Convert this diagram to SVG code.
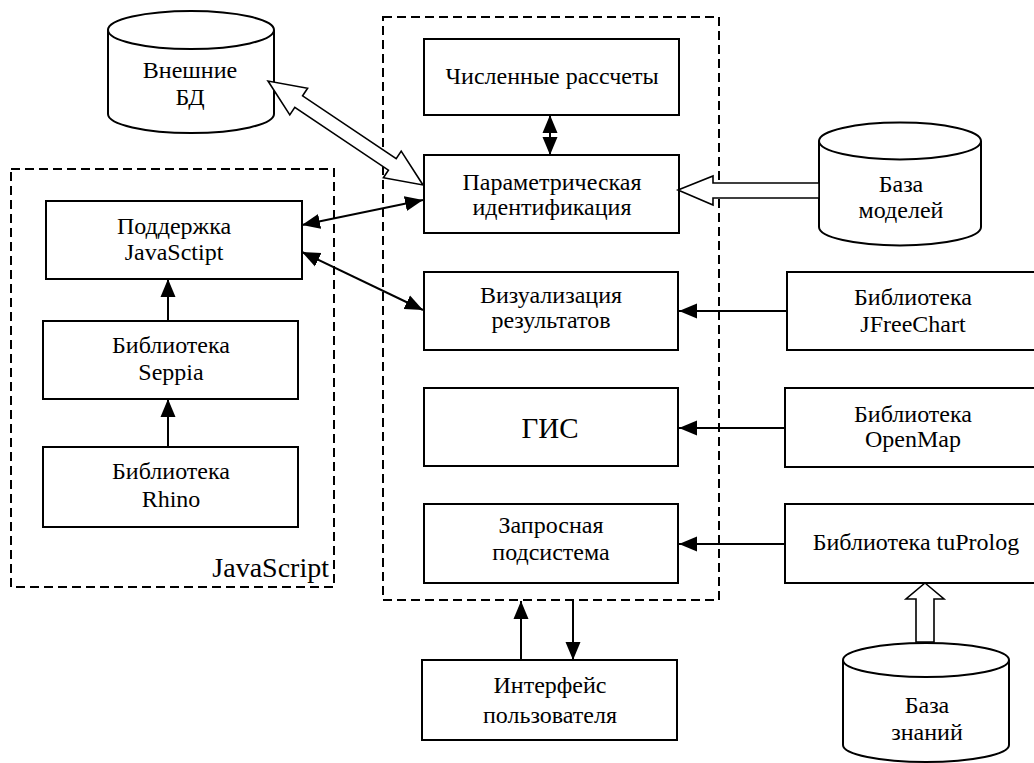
<svg xmlns="http://www.w3.org/2000/svg" width="1034" height="763" viewBox="0 0 1034 763">
<style>
.box{fill:#fff;stroke:#000;stroke-width:2}
.dash{fill:none;stroke:#000;stroke-width:2;stroke-dasharray:9,5}
.cyl{fill:#fff;stroke:#000;stroke-width:2}
.t{font-family:"Liberation Serif","Times New Roman",serif;font-size:24px;fill:#000;text-anchor:middle}
.ln{stroke:#000;stroke-width:2;fill:none}
.hollow{fill:#fff;stroke:#000;stroke-width:1.6;stroke-linejoin:miter}
</style>
<defs>
<marker id="ah" markerUnits="userSpaceOnUse" markerWidth="18" markerHeight="16" refX="18" refY="8" orient="auto-start-reverse" viewBox="0 0 18 16">
<path d="M0,0.5 L18,8 L0,15.5 z" fill="#000"/>
</marker>
</defs>
<rect width="1034" height="763" fill="#fff"/>

<g id="group-main"><rect class="dash" x="383" y="17" width="336" height="583"/></g>
<g id="group-js"><rect class="dash" x="11" y="169" width="323" height="418"/>
<text class="t" x="329" y="577" style="text-anchor:end;font-size:28px">JavaScript</text></g>

<g id="n-ext-db">
<path class="cyl" d="M108,30 L108,114 A83,19 0 0 0 274,114 L274,30"/>
<ellipse class="cyl" cx="191" cy="30" rx="83" ry="19"/>
<text class="t" x="190" y="78">Внешние</text>
<text class="t" x="190" y="105">БД</text>
</g>

<g id="n-numeric"><rect class="box" x="424" y="39" width="255" height="76"/>
<text class="t" x="552" y="84">Численные рассчеты</text></g>

<g id="n-param"><rect class="box" x="424" y="155" width="255" height="78"/>
<text class="t" x="552" y="190">Параметрическая</text>
<text class="t" x="552" y="215">идентификация</text></g>

<g id="n-viz"><rect class="box" x="424" y="272" width="254" height="78"/>
<text class="t" x="551" y="303">Визуализация</text>
<text class="t" x="551" y="328">результатов</text></g>

<g id="n-gis"><rect class="box" x="424" y="388" width="254" height="78"/>
<text class="t" x="550" y="438" style="font-size:29px">ГИС</text></g>

<g id="n-query"><rect class="box" x="424" y="504" width="254" height="79"/>
<text class="t" x="551" y="533">Запросная</text>
<text class="t" x="551" y="560">подсистема</text></g>

<g id="n-ui"><rect class="box" x="422" y="660" width="255" height="80"/>
<text class="t" x="550" y="693">Интерфейс</text>
<text class="t" x="550" y="723">пользователя</text></g>

<g id="n-models">
<path class="cyl" d="M819,141 L819,227 A81,18.5 0 0 0 981,227 L981,141"/>
<ellipse class="cyl" cx="900" cy="141" rx="81" ry="18.5"/>
<text class="t" x="901" y="192">База</text>
<text class="t" x="901" y="218">моделей</text>
</g>

<g id="n-jfree"><rect class="box" x="787" y="272" width="253" height="78"/>
<text class="t" x="913" y="305">Библиотека</text>
<text class="t" x="913" y="332">JFreeChart</text></g>

<g id="n-openmap"><rect class="box" x="785" y="388" width="255" height="79"/>
<text class="t" x="913" y="422">Библиотека</text>
<text class="t" x="913" y="447">OpenMap</text></g>

<g id="n-tuprolog"><rect class="box" x="785" y="504" width="255" height="79"/>
<text class="t" x="916" y="550">Библиотека tuProlog</text></g>

<g id="n-kb">
<path class="cyl" d="M843,660 L843,745 A83,17 0 0 0 1009,745 L1009,660"/>
<ellipse class="cyl" cx="926" cy="660" rx="83" ry="17"/>
<text class="t" x="927" y="713">База</text>
<text class="t" x="927" y="740">знаний</text>
</g>

<g id="n-jssupport"><rect class="box" x="46" y="201" width="256" height="78"/>
<text class="t" x="174" y="234">Поддержка</text>
<text class="t" x="174" y="260">JavaSctipt</text></g>

<g id="n-seppia"><rect class="box" x="43" y="321" width="255" height="78"/>
<text class="t" x="171" y="353">Библиотека</text>
<text class="t" x="171" y="380">Seppia</text></g>

<g id="n-rhino"><rect class="box" x="43" y="447" width="255" height="80"/>
<text class="t" x="171" y="479">Библиотека</text>
<text class="t" x="171" y="507">Rhino</text></g>

<g id="connectors">
<polygon class="hollow" points="268,81 289.8,114.9 294.8,107.4 388.4,170.2 383.4,177.7 423,185 401.2,151.1 396.2,158.6 302.6,95.8 307.6,88.3"/>
<polygon class="hollow" points="678,190 713,176 713,183 819,183 819,198 713,198 713,205"/>
<polygon class="hollow" points="925,583 944,599 934,599 934,642 916,642 916,599 906,599"/>
<line class="ln" x1="550" y1="115" x2="550" y2="155" marker-start="url(#ah)" marker-end="url(#ah)"/>
<line class="ln" x1="302" y1="225" x2="423" y2="200" marker-start="url(#ah)" marker-end="url(#ah)"/>
<line class="ln" x1="302" y1="252" x2="423" y2="310" marker-start="url(#ah)" marker-end="url(#ah)"/>
<line class="ln" x1="168" y1="321" x2="168" y2="279" marker-end="url(#ah)"/>
<line class="ln" x1="168" y1="447" x2="168" y2="399" marker-end="url(#ah)"/>
<line class="ln" x1="787" y1="311" x2="679" y2="311" marker-end="url(#ah)"/>
<line class="ln" x1="785" y1="428" x2="679" y2="428" marker-end="url(#ah)"/>
<line class="ln" x1="785" y1="544" x2="679" y2="544" marker-end="url(#ah)"/>
<line class="ln" x1="521" y1="660" x2="521" y2="601" marker-end="url(#ah)"/>
<line class="ln" x1="573" y1="601" x2="573" y2="660" marker-end="url(#ah)"/>
</g>
</svg>
